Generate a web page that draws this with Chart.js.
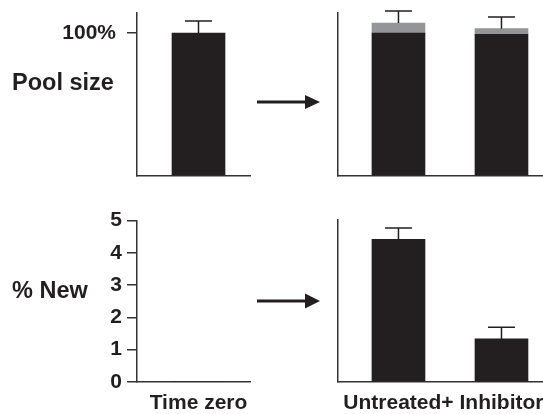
<!DOCTYPE html>
<html><head><meta charset="utf-8">
<script src="https://cdn.jsdelivr.net/npm/chart.js@4.4.1/dist/chart.umd.min.js"></script>
<style>
html,body{margin:0;padding:0;background:#fff;overflow:hidden;width:543px;height:414px;position:relative}
canvas{position:absolute;display:block}
</style></head><body>
<canvas id="c1" width="260" height="200" style="left:0;top:0"></canvas>
<canvas id="c2" width="293" height="200" style="left:250px;top:0"></canvas>
<canvas id="c3" width="260" height="214" style="left:0;top:200px"></canvas>
<canvas id="c4" width="293" height="214" style="left:250px;top:200px"></canvas>
<script>
// ---- data ----
const timeZeroLabels = ['Time zero'];
const treatLabels = ['Untreated+', 'Inhibitor'];
const poolTimeZero = [100];
const poolTimeZeroErr = [8.4];
const poolOld = [100, 99];
const poolNew = [7, 4];
const poolTreatErr = [8.4, 8.2];
const newTimeZero = [0];
const newTreat = [4.4, 1.33];
const newTreatErr = [0.35, 0.36];
const poolTicks = [100];
const poolTickLabels = ['100%'];
const newTicks = [0, 1, 2, 3, 4, 5];
const newTickLabels = ['0', '1', '2', '3', '4', '5'];
const rowLabels = ['Pool size', '% New'];

// ---- styles ----
const FONT = "'Liberation Sans', Arial, sans-serif";
const INK = '#231f20';
const GREY = '#939598';
const AXIS = '#333333';

const errorBars = {
  id: 'errorBars',
  afterDatasetsDraw(chart, args, o) {
    if (!o.errors) return;
    const ys = chart.scales.y, ctx = chart.ctx;
    const meta = chart.getDatasetMeta(chart.data.datasets.length - 1);
    ctx.save();
    ctx.strokeStyle = INK; ctx.lineWidth = 1.5;
    meta.data.forEach((bar, i) => {
      const total = chart.data.datasets.reduce((s, ds) => s + ds.data[i].y, 0);
      const e = o.errors[i];
      if (!e) return;
      const yTop = ys.getPixelForValue(total), yCap = ys.getPixelForValue(total + e);
      ctx.beginPath();
      ctx.moveTo(bar.x, yTop); ctx.lineTo(bar.x, yCap);
      ctx.moveTo(bar.x - o.capHalf, yCap); ctx.lineTo(bar.x + o.capHalf, yCap);
      ctx.stroke();
    });
    ctx.restore();
  }
};

const decor = {
  id: 'decor',
  afterDraw(chart, args, o) {
    const ctx = chart.ctx;
    ctx.save();
    if (o.label) {
      ctx.font = 'bold ' + o.labelSize + 'px ' + FONT;
      ctx.fillStyle = INK; ctx.textAlign = 'left'; ctx.textBaseline = 'middle';
      ctx.fillText(o.label, o.labelX, o.labelY);
    }
    if (o.arrow) {
      const a = o.arrow;
      ctx.strokeStyle = INK; ctx.fillStyle = INK; ctx.lineWidth = 3;
      ctx.beginPath(); ctx.moveTo(a.x0, a.y); ctx.lineTo(a.xb + 1, a.y); ctx.stroke();
      ctx.beginPath(); ctx.moveTo(a.xb, a.y - a.h); ctx.lineTo(a.x1, a.y); ctx.lineTo(a.xb, a.y + a.h); ctx.closePath(); ctx.fill();
    }
    ctx.restore();
  }
};

function pts(vals) { return vals.map((v, i) => ({ x: i, y: v })); }

function makePanel(id, c) {
  return new Chart(document.getElementById(id), {
    type: 'bar',
    data: { datasets: c.datasets.map(d => ({ data: pts(d.values), backgroundColor: d.color, borderWidth: 0, barThickness: 53 })) },
    options: {
      responsive: false, animation: false, events: [],
      layout: { padding: { top: c.padTop, right: c.padRight, left: 0, bottom: 0 } },
      plugins: {
        legend: { display: false }, tooltip: { enabled: false },
        errorBars: { errors: c.errors, capHalf: 13.5 },
        decor: c.decor || {}
      },
      scales: {
        x: {
          type: 'linear', stacked: true, min: c.xMin, max: c.xMax, offset: false,
          afterBuildTicks: s => { s.ticks = c.xLabels.map((_, i) => ({ value: i })); },
          afterFit: s => { s.height = c.xHeight; s.paddingLeft = 0; s.paddingRight = 0; s.paddingTop = 0; s.paddingBottom = 0; },
          grid: { drawOnChartArea: false, drawTicks: false },
          border: { color: AXIS, width: 1.5 },
          ticks: { display: c.showX, padding: 9, color: INK, maxRotation: 0, autoSkip: false,
                   font: { family: FONT, size: 21, weight: 'bold' },
                   callback: v => (c.xLabels[v] !== undefined ? c.xLabels[v] : '') }
        },
        y: {
          stacked: true, min: c.yMin, max: c.yMax,
          afterBuildTicks: s => { s.ticks = c.yTicks.map(v => ({ value: v })); },
          afterFit: s => { s.width = c.yWidth; s.paddingTop = 0; s.paddingBottom = 0; s.paddingLeft = 0; s.paddingRight = 0; },
          grid: { drawOnChartArea: false, drawTicks: c.showY, tickLength: 10, tickColor: AXIS, lineWidth: 1.5 },
          border: { color: AXIS, width: 1.5 },
          ticks: { display: c.showY, padding: c.yPad, color: INK,
                   font: { family: FONT, size: 21, weight: 'bold' },
                   callback: v => c.yTickLabels[c.yTicks.indexOf(v)] }
        }
      }
    },
    plugins: [errorBars, decor]
  });
}

// top-left: pool size at time zero
makePanel('c1', {
  datasets: [{ values: poolTimeZero, color: INK }], errors: poolTimeZeroErr,
  xLabels: timeZeroLabels, showX: false, xMin: -0.597, xMax: 0.5, xHeight: 24.5,
  yMin: 0, yMax: 114, yTicks: poolTicks, yTickLabels: poolTickLabels, showY: true, yPad: 11,
  yWidth: 137, padTop: 13, padRight: 10,
  decor: { label: rowLabels[0], labelSize: 23.5, labelX: 12, labelY: 84 }
});
// top-right: pool size after treatment (old + new)
makePanel('c2', {
  datasets: [{ values: poolOld, color: INK }, { values: poolNew, color: GREY }], errors: poolTreatErr,
  xLabels: treatLabels, showX: false, xMin: -0.587, xMax: 1.403, xHeight: 24.5,
  yMin: 0, yMax: 114, yTicks: poolTicks, yTickLabels: poolTickLabels, showY: false, yPad: 0,
  yWidth: 88, padTop: 13, padRight: 0,
  decor: { arrow: { x0: 7, xb: 55, x1: 70, y: 102, h: 7 } }
});
// bottom-left: % new at time zero
makePanel('c3', {
  datasets: [{ values: newTimeZero, color: INK }], errors: null,
  xLabels: timeZeroLabels, showX: true, xMin: -0.597, xMax: 0.5, xHeight: 32,
  yMin: 0, yMax: 5, yTicks: newTicks, yTickLabels: newTickLabels, showY: true, yPad: 5,
  yWidth: 137, padTop: 20.5, padRight: 10,
  decor: { label: rowLabels[1], labelSize: 23.5, labelX: 12, labelY: 92 }
});
// bottom-right: % new after treatment
makePanel('c4', {
  datasets: [{ values: newTreat, color: INK }], errors: newTreatErr,
  xLabels: treatLabels, showX: true, xMin: -0.587, xMax: 1.403, xHeight: 32,
  yMin: 0, yMax: 5, yTicks: newTicks, yTickLabels: newTickLabels, showY: false, yPad: 0,
  yWidth: 88, padTop: 20, padRight: 0,
  decor: { arrow: { x0: 7, xb: 55, x1: 70, y: 101, h: 7.5 } }
});
</script>
</body></html>
